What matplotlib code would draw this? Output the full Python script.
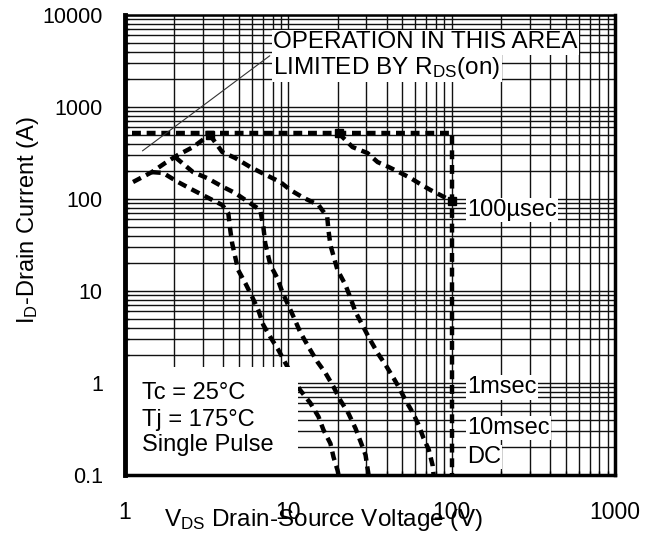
import matplotlib
matplotlib.use("Agg")
import matplotlib.pyplot as plt
import numpy as np
from matplotlib.ticker import LogLocator, NullFormatter, FixedLocator, FixedFormatter
from matplotlib.patches import Rectangle

plt.rcParams['font.family'] = ['Liberation Sans', 'DejaVu Sans']
plt.rcParams['mathtext.default'] = 'regular'

# limit lines: max current then VDSS
lim_v = [1.1, 100, 100]
lim_i = [520, 520, 0.1]

# RDS(on) limited rise
rds_v = [1.12, 1.46, 1.76, 2.11, 2.61, 3.3]
rds_i = [153, 196, 246, 301, 367, 500]

# 100usec
us100_v = [20.3, 24.7, 30.5, 35.2, 41.1, 48.7, 56, 62.8, 74.3, 85.6, 100]
us100_i = [520, 367, 316, 252, 223, 192, 169, 149, 125, 110, 95]

# 1msec
ms1_v = [3.3, 3.94, 4.73, 5.84, 6.73, 7.76, 8.93, 10.3, 12.4, 15.3, 17.3, 17.6, 18.1, 20.0,
         22.4, 24.0, 25.8, 28.4, 31.0, 35.2, 39.4, 44.1, 47.3, 52.2, 57.6, 62.8, 67.3, 72.3, 76.4, 77.5]
ms1_i = [500, 324, 279, 223, 196, 173, 153, 125, 103, 86, 64, 46, 31.6, 16.9,
         11.6, 8.4, 5.9, 4.27, 3.16, 2.12, 1.57, 1.13, 0.91, 0.65, 0.48, 0.35, 0.25, 0.19, 0.128, 0.1]

# 10msec
ms10_v = [2.03, 2.61, 3.18, 3.99, 4.73, 5.68, 6.73, 7.03, 7.22, 7.76, 8.56, 9.19, 10.0, 11.0, 11.8,
          13.3, 15.1, 16.9, 18.9, 20.8, 23.3, 25.8, 27.7, 29.7, 30.5, 31]
ms10_i = [285, 196, 169, 135, 116, 93, 76, 50, 33, 19.2, 13.8, 9.7, 7.0, 4.8, 3.6,
          2.46, 1.69, 1.28, 0.91, 0.65, 0.47, 0.32, 0.23, 0.165, 0.12, 0.1]

# DC
dc_v = [1.46, 1.71, 2.11, 2.61, 3.23, 3.94, 4.29, 4.41, 4.53, 4.93, 5.45, 6.01, 6.55, 7.03, 7.76,
        8.69, 9.59, 11.8, 13.6, 15.3, 16.4, 18.1, 18.9, 20.0, 20.3]
dc_i = [196, 192, 153, 125, 103, 86, 70, 46, 33, 16.9, 12.2, 8.6, 6.2, 4.27, 3.16,
        2.29, 1.65, 0.84, 0.61, 0.43, 0.31, 0.22, 0.157, 0.113, 0.1]

x_ticks = [1, 10, 100, 1000]
x_ticklabels = ['1', '10', '100', '1000']
y_ticks = [0.1, 1, 10, 100, 1000, 10000]
y_ticklabels = ['0.1', '1', '10', '100', '1000', '10000']

fig = plt.figure(figsize=(6.57, 5.35), dpi=100)
ax = fig.add_axes([125 / 657, 60 / 535, 490 / 657, 460 / 535])
ax.set_xscale('log')
ax.set_yscale('log')
ax.set_xlim(1, 1000)
ax.set_ylim(0.1, 10000)

for axis in (ax.xaxis, ax.yaxis):
    axis.set_minor_locator(LogLocator(base=10, subs=np.arange(2, 10), numticks=100))
    axis.set_minor_formatter(NullFormatter())
ax.xaxis.set_major_locator(FixedLocator(x_ticks))
ax.xaxis.set_major_formatter(FixedFormatter(x_ticklabels))
ax.yaxis.set_major_locator(FixedLocator(y_ticks))
ax.yaxis.set_major_formatter(FixedFormatter(y_ticklabels))
ax.tick_params(which='both', direction='in', length=3, width=1)
ax.tick_params(axis='x', which='major', pad=19, labelsize=16.5)
ax.tick_params(axis='y', which='major', pad=16, labelsize=15.5)

ax.set_axisbelow(True)
ax.grid(True, which='both', color='#111111', linewidth=1.0)

for s in ax.spines.values():
    s.set_linewidth(2.5)
    s.set_zorder(6)
ax.spines['left'].set_linewidth(3.5)
ax.spines['top'].set_linewidth(1.8)

dash = dict(color='black', linewidth=3.2, linestyle=(0, (2, 1.3)), dash_capstyle='butt', zorder=3)
ax.plot(lim_v, lim_i, **dash)
ax.plot(rds_v, rds_i, **dash)
ax.plot(us100_v, us100_i, **dash)
ax.plot(ms1_v, ms1_i, **dash)
ax.plot(ms10_v, ms10_i, **dash)
ax.plot(dc_v, dc_i, **dash)
ax.plot([us100_v[0], us100_v[-1], rds_v[-1]], [us100_i[0], us100_i[-1], rds_i[-1]],
        's', color='black', markersize=6, zorder=3)

# white box for the test conditions
ax.add_patch(Rectangle((0, 0), 0.353, 0.235, transform=ax.transAxes,
                       facecolor='white', edgecolor='none', zorder=4))
cond = ['Tc = 25°C', 'Tj = 175°C', 'Single Pulse']
for t, yy in zip(cond, [0.178, 0.120, 0.065]):
    ax.text(0.035, yy, t, transform=ax.transAxes, fontsize=17, va='center', ha='left', zorder=5)

wb = dict(facecolor='white', edgecolor='none', pad=1.0)
ax.text(0.303, 0.941, 'OPERATION IN THIS AREA', transform=ax.transAxes, fontsize=17.5,
        va='center', ha='left', bbox=wb, zorder=5)
ax.text(0.303, 0.885, 'LIMITED BY R$_{DS}$(on)', transform=ax.transAxes, fontsize=17.5,
        va='center', ha='left', bbox=wb, zorder=5)
ax.annotate('', xy=(1.24, 320), xytext=(0.300, 0.915), textcoords='axes fraction',
            arrowprops=dict(arrowstyle='-', color='#333333', lw=0.8), zorder=5)

for t, yy in [('100µsec', 0.576), ('1msec', 0.191), ('10msec', 0.102), ('DC', 0.039)]:
    ax.text(0.698, yy, t, transform=ax.transAxes, fontsize=17, va='center', ha='left',
            bbox=wb, zorder=5)

ax.text(0.404, -0.098, r'V$_{DS}$ Drain-Source Voltage (V)', transform=ax.transAxes,
        fontsize=17.5, ha='center', va='center')
ax.text(-0.198, 0.554, r'I$_{D}$-Drain Current (A)', transform=ax.transAxes,
        fontsize=17, ha='center', va='center', rotation=90)

fig.savefig('out.png', dpi=100)
